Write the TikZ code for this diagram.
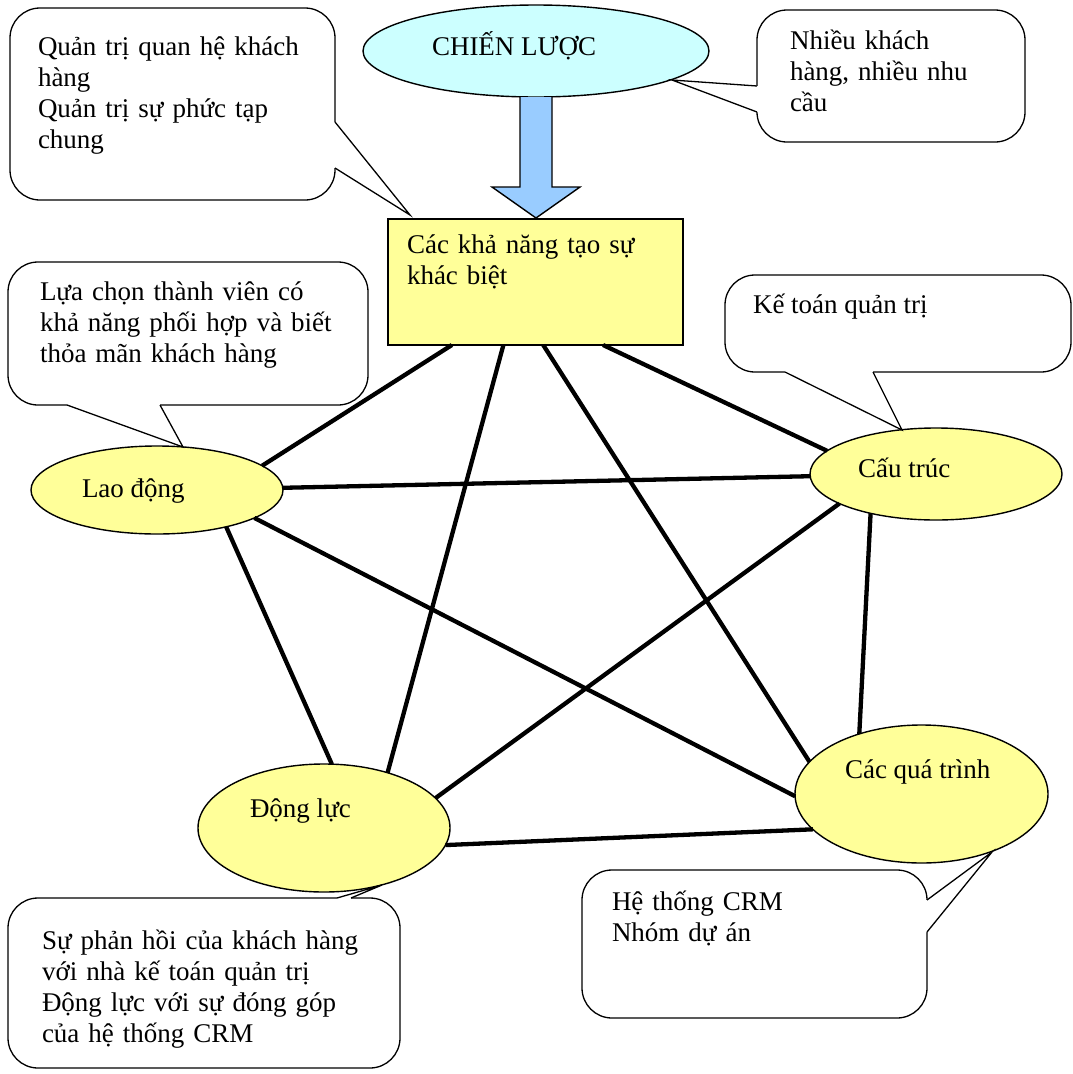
\documentclass[tikz,border=0pt]{standalone}
\usepackage{fontspec}
\setmainfont{Liberation Serif}
\usetikzlibrary{calc,shapes.geometric}
\definecolor{paleyellow}{HTML}{FFFF99}
\definecolor{palecyan}{HTML}{CCFFFF}
\definecolor{arrowblue}{HTML}{99CCFF}
\newcommand\txtfont{\fontsize{27}{31}\selectfont\lineskiplimit=-100pt\relax}
\newcommand\topstrut{\rule{0pt}{27pt}}

\begin{document}
\begin{tikzpicture}[x=1pt,y=-1pt,
  every node/.style={inner sep=0pt, outer sep=0pt},
  txt/.style={font=\txtfont, anchor=base west},
  para/.style={font=\txtfont, anchor=north west, text width=400pt, align=left},
  bubble/.style={rectangle, draw, fill=white, line width=1.3pt, rounded corners=30pt, anchor=north west},
  tailline/.style={line width=1.3pt, line join=miter},
  oval/.style={ellipse, draw, line width=1.4pt, fill=paleyellow},
  link/.style={line width=4.3pt},
  bigarrow/.style={draw, fill=arrowblue, line width=1.4pt, line join=miter},
]
\useasboundingbox (0,0) rectangle (1073,1074);
\fill[white] (0,0) rectangle (1073,1074);

% strategy ellipse and the arrow down to the central box
\node[oval, fill=palecyan, minimum width=346, minimum height=92] (chien) at (536,51) {};
\node[txt] (chient) at (432,55) {CHIẾN LƯỢC};
\node[rectangle, draw, fill=paleyellow, line width=1.4pt, minimum width=295, minimum height=126] (box) at (535.5,282) {};
\node[para] (boxt) at (407,226) {\topstrut Các khả năng tạo sự\\khác biệt};
\draw[bigarrow] (chien.south) ++(-16,0) -- ++(0,90) -- ++(-28,0)
  -- ($(chien.south)+(0,121)$) -- ++(44,-31) -- ++(-28,0) -- ++(0,-90);

% the four capability ellipses
\node[oval, minimum width=252, minimum height=88] (lao) at (157,490) {};
\node[txt] (laot) at (82,497) {Lao động};
\node[oval, minimum width=252, minimum height=92] (cau) at (936,474) {};
\node[txt] (caut) at (858,477) {Cấu trúc};
\node[oval, minimum width=252, minimum height=128] (dong) at (324,828) {};
\node[txt] (dongt) at (250,817) {Động lực};
\node[oval, minimum width=253, minimum height=138] (qt) at (921.5,794) {};
\node[txt] (qtt) at (845,778) {Các quá trình};

% links between all five elements
\draw[link] (box.217) -- (lao.13);
\draw[link] (box.243) -- (dong.41);
\draw[link] (box.277) -- (qt.164);
\draw[link] (box.317) -- (cau.168);
\draw[link] (lao.1) -- (cau.181);
\draw[link] (lao.-16) -- (qt.181);
\draw[link] (lao.-28) -- (dong.83);
\draw[link] (cau.197) -- (dong.15);
\draw[link] (cau.211) -- (qt.136);
\draw[link] (dong.-8) -- (qt.198);

% callout tips
\coordinate (t1) at (410,215);
\coordinate (t2) at (672,80);
\coordinate (t3) at (183,447);
\coordinate (t4) at (902,430);
\coordinate (t5) at (382,885);
\coordinate (t6) at (992,852);

% top-left callout
\node[bubble, minimum width=325, minimum height=192] (c1) at (10,8) {};
\fill[white] ($(c1.north east)+(-3,114)$) -- ($(c1.north east)+(0,114)$) -- (t1)
  -- ($(c1.north east)+(0,160)$) -- ($(c1.north east)+(-3,160)$) -- cycle;
\draw[tailline] ($(c1.north east)+(0,114)$) -- (t1) -- ($(c1.north east)+(0,160)$);
\node[para] (c1t) at (38,28) {\topstrut Quản trị quan hệ khách\\hàng\\Quản trị sự phức tạp\\chung};

% top-right callout
\node[bubble, minimum width=268, minimum height=132] (c2) at (757,10) {};
\fill[white] ($(c2.north west)+(3,76)$) -- ($(c2.north west)+(0,76)$) -- (t2)
  -- ($(c2.north west)+(0,102)$) -- ($(c2.north west)+(3,102)$) -- cycle;
\draw[tailline] ($(c2.north west)+(0,76)$) -- (t2) -- ($(c2.north west)+(0,102)$);
\node[para] (c2t) at (790,22) {\topstrut Nhiều khách\\hàng, nhiều nhu\\cầu};

% callout above Lao dong
\node[bubble, minimum width=360, minimum height=143] (c3) at (8,262) {};
\fill[white] ($(c3.south west)+(59,-3)$) -- ($(c3.south west)+(59,0)$) -- (t3)
  -- ($(c3.south west)+(152,0)$) -- ($(c3.south west)+(152,-3)$) -- cycle;
\draw[tailline] ($(c3.south west)+(59,0)$) -- (t3) -- ($(c3.south west)+(152,0)$);
\node[para] (c3t) at (40,273) {\topstrut Lựa chọn thành viên có\\khả năng phối hợp và biết\\thỏa mãn khách hàng};

% callout above Cau truc
\node[bubble, minimum width=346, minimum height=97] (c4) at (725,275) {};
\fill[white] ($(c4.south west)+(60,-3)$) -- ($(c4.south west)+(60,0)$) -- (t4)
  -- ($(c4.south west)+(148,0)$) -- ($(c4.south west)+(148,-3)$) -- cycle;
\draw[tailline] ($(c4.south west)+(60,0)$) -- (t4) -- ($(c4.south west)+(148,0)$);
\node[txt] (c4t) at (753,313) {Kế toán quản trị};

% callout below Dong luc
\node[bubble, minimum width=392, minimum height=170] (c5) at (8,898) {};
\fill[white] ($(c5.north west)+(329,3)$) -- ($(c5.north west)+(329,0)$) -- (t5)
  -- ($(c5.north west)+(343,0)$) -- ($(c5.north west)+(343,3)$) -- cycle;
\draw[tailline] ($(c5.north west)+(329,0)$) -- (t5) -- ($(c5.north west)+(343,0)$);
\node[para] (c5t) at (42,922) {\topstrut Sự phản hồi của khách hàng\\với nhà kế toán quản trị\\Động lực với sự đóng góp\\của hệ thống CRM};

% callout below Cac qua trinh
\node[bubble, minimum width=345, minimum height=148] (c6) at (582,870) {};
\fill[white] ($(c6.north east)+(-3,30)$) -- ($(c6.north east)+(0,30)$) -- (t6)
  -- ($(c6.north east)+(0,62)$) -- ($(c6.north east)+(-3,62)$) -- cycle;
\draw[tailline] ($(c6.north east)+(0,30)$) -- (t6) -- ($(c6.north east)+(0,62)$);
\node[para] (c6t) at (612,883) {\topstrut Hệ thống CRM\\Nhóm dự án};
\end{tikzpicture}
\end{document}
